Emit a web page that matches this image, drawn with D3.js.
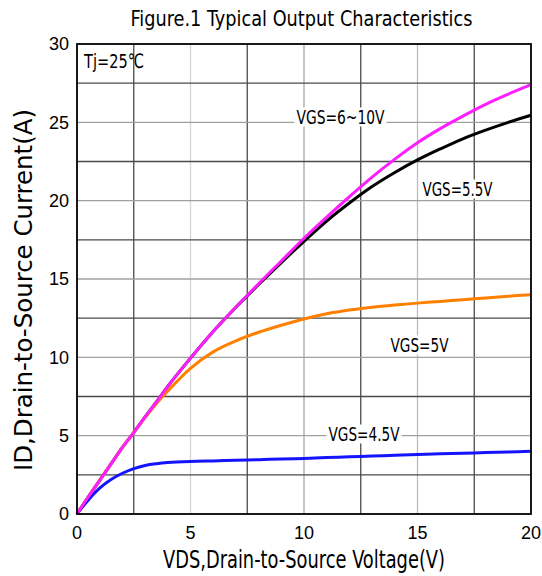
<!DOCTYPE html>
<html><head><meta charset="utf-8">
<script src="https://cdn.jsdelivr.net/npm/d3@7"></script>
<style>body{margin:0;background:#fff}svg{display:block}</style>
</head><body>
<svg id="c" width="542" height="576"></svg>
<script>
const vds = [0,0.5,1,1.5,2,2.5,3,3.5,4,5,6,7,8,9,10,11,12,13,14,15,16,17,18,19,20];
const idVgs10  = [0,1.1,2.15,3.2,4.25,5.2,6.2,7.15,8.15,9.95,11.65,13.2,14.7,16.15,17.6,18.95,20.25,21.5,22.65,23.7,24.6,25.4,26.15,26.8,27.4];
const idVgs55  = [0,1.1,2.15,3.2,4.25,5.2,6.2,7.15,8.15,9.95,11.65,13.2,14.65,16.05,17.4,18.7,19.85,20.9,21.8,22.6,23.3,23.95,24.5,25.0,25.45];
const idVgs5   = [0,1.1,2.15,3.2,4.25,5.2,6.15,7.05,7.85,9.3,10.35,11.05,11.6,12.05,12.45,12.78,13.02,13.2,13.34,13.46,13.57,13.68,13.79,13.9,14.0];
const idVgs45  = [0,0.9,1.65,2.2,2.6,2.9,3.1,3.21,3.28,3.35,3.39,3.43,3.47,3.51,3.55,3.6,3.65,3.7,3.75,3.8,3.84,3.88,3.92,3.96,4.0];
const xTicks = [0,5,10,15,20];
const yTicks = [0,5,10,15,20,25,30];
const xGrid = [2.5,5,7.5,10,12.5,15,17.5];
const yGrid = [2.5,5,7.5,10,12.5,15,17.5,20,22.5,25,27.5];
const seriesNames = ["VGS=4.5V","VGS=5V","VGS=5.5V","VGS=6~10V"];
const seriesColors = ["#1414ff","#ff8000","#000000","#ff1eff"];
const title = "Figure.1 Typical Output Characteristics";
const xTitle = "VDS,Drain-to-Source Voltage(V)";
const yTitle = "ID,Drain-to-Source Current(A)";
const tjLabel = "Tj=25℃";

const svg = d3.select("#c");
const L=77,R=531,T=44,B=514;
const x = d3.scaleLinear().domain([0,20]).range([L,R]);
const y = d3.scaleLinear().domain([0,30]).range([B,T]);
const narrow = "'Liberation Sans Narrow','DejaVu Sans Condensed',sans-serif";

// grid
const vColor = v => v===5 ? "#d4d4d4" : v===10 ? "#a8a8a8" : v===15 ? "#bdbdbd" : "#4a4a4a";
svg.append("g").selectAll("line").data(xGrid).join("line")
  .attr("x1",d=>x(d)).attr("x2",d=>x(d)).attr("y1",T).attr("y2",B)
  .attr("stroke",d=>vColor(d)).attr("stroke-width",1.3);
svg.append("g").selectAll("line").data(yGrid).join("line")
  .attr("y1",d=>y(d)).attr("y2",d=>y(d)).attr("x1",L).attr("x2",R)
  .attr("stroke",d=>(d%5===0)?"#a0a0a0":"#4a4a4a").attr("stroke-width",1.3);

// labels with white backgrounds
function boxLabel(txt, cx, cy, len, size){
  const g = svg.append("g");
  const r = g.append("rect").attr("fill","#fff");
  g.append("text").attr("x",cx).attr("y",cy).attr("text-anchor","middle")
    .attr("dominant-baseline","central").attr("font-family",narrow).attr("font-size",size)
    .attr("textLength",len).attr("lengthAdjust","spacingAndGlyphs").text(txt);
  r.attr("x",cx-len/2-2).attr("y",cy-size*0.5).attr("width",len+4).attr("height",size);
}
boxLabel(seriesNames[3], 340.5, 117, 88, 19);
boxLabel(seriesNames[2], 457.5, 189, 70, 19);
boxLabel(seriesNames[1], 419.5, 345, 58, 19);
boxLabel(seriesNames[0], 364, 434, 71, 19);

// curves
const line = d3.line().x((d,i)=>x(vds[i])).y(d=>y(d)).curve(d3.curveCatmullRom.alpha(0.5));
const data = [idVgs45, idVgs5, idVgs55, idVgs10];
const order = [2,1,0,3];
order.forEach(k=>{
  svg.append("path").attr("d",line(data[k])).attr("fill","none")
    .attr("stroke",seriesColors[k]).attr("stroke-width",3).attr("stroke-linejoin","round");
});

// frame
svg.append("rect").attr("x",L).attr("y",T).attr("width",R-L).attr("height",B-T)
  .attr("fill","none").attr("stroke","#000").attr("stroke-width",1.8);

// ticks
svg.append("g").selectAll("text").data(xTicks).join("text")
  .attr("x",d=>x(d)).attr("y",539).attr("text-anchor","middle")
  .attr("font-family","'Liberation Sans',Arial,sans-serif").attr("font-size",18).text(d=>d);
svg.append("g").selectAll("text").data(yTicks).join("text")
  .attr("x",69).attr("y",d=>y(d)).attr("dy","0.36em").attr("text-anchor","end")
  .attr("font-family","'Liberation Sans',Arial,sans-serif").attr("font-size",18).text(d=>d);

// Tj
svg.append("text").attr("x",84).attr("y",68).attr("font-family",narrow).attr("font-size",20)
  .attr("textLength",60).attr("lengthAdjust","spacingAndGlyphs").text(tjLabel);

// titles
svg.append("text").attr("x",301.5).attr("y",26).attr("text-anchor","middle")
  .attr("font-family",narrow).attr("font-size",21)
  .attr("textLength",342).attr("lengthAdjust","spacingAndGlyphs").text(title);
svg.append("text").attr("x",304).attr("y",568).attr("text-anchor","middle")
  .attr("font-family",narrow).attr("font-size",24)
  .attr("textLength",282).attr("lengthAdjust","spacingAndGlyphs").text(xTitle);
svg.append("text").attr("transform","translate(32,290) rotate(-90)").attr("text-anchor","middle")
  .attr("font-family",narrow).attr("font-size",25)
  .attr("textLength",362).attr("lengthAdjust","spacingAndGlyphs").text(yTitle);
</script>
</body></html>
